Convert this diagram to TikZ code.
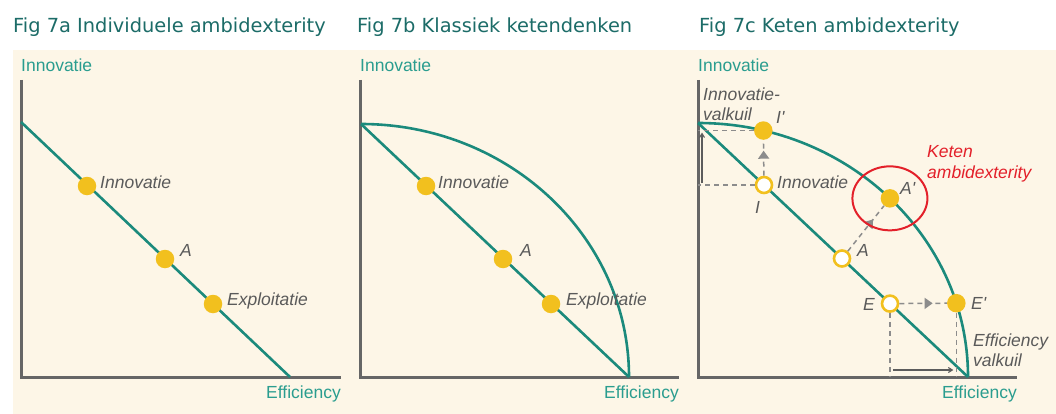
\documentclass[tikz,border=0pt]{standalone}
\usepackage{fontspec}
\setmainfont{Liberation Sans}
\newfontfamily\titlefont{DejaVu Sans}
\usetikzlibrary{arrows.meta, calc, decorations.markings}

\definecolor{cream}{HTML}{FDF6E7}
\definecolor{titleteal}{HTML}{1C6C68}
\definecolor{axisteal}{HTML}{2A9D8F}
\definecolor{curveteal}{HTML}{1B8A7C}
\definecolor{dotyellow}{HTML}{F2C01E}
\definecolor{txtgray}{HTML}{5A5A5A}
\definecolor{axisgray}{HTML}{666666}
\definecolor{guidegray}{HTML}{8C8C8C}
\definecolor{ketenred}{HTML}{E3202A}

\begin{document}
\begin{tikzpicture}[x=1pt, y=-1pt,
  every node/.style={inner sep=0pt, font=\fontsize{17.5}{20}\selectfont},
  axis/.style={draw=axisgray, line width=3pt, line join=miter},
  frontier/.style={draw=curveteal, line width=2.6pt},
  dot/.style={circle, fill=dotyellow, minimum size=18.5pt},
  opendot/.style={circle, draw=dotyellow, fill=white, line width=2.6pt, minimum size=16pt},
  lbl/.style={text=txtgray, font=\fontsize{17.5}{20}\selectfont\itshape},
  axlbl/.style={text=axisteal},
  figtitle/.style={text=titleteal, font=\titlefont\fontsize{19.4}{23}\selectfont, anchor=base west},
  guide/.style={color=guidegray, line width=1.5pt, dash pattern=on 5pt off 4pt},
  shiftarrow/.style={guide, postaction={decorate, decoration={markings,
      mark=at position 0.7 with {\arrow{Triangle[length=8pt, width=11pt]}}}}},
  gap/.style={draw=axisgray!90!black, line width=1.1pt, -{Straight Barb[length=4pt, width=5pt]}},
]
  \useasboundingbox (0,0) rectangle (1056,414);
  \fill[white] (0,0) rectangle (1056,414);
  \fill[cream] (13,50) rectangle (1056,414);

  % titles
  \node[figtitle] at (13,33) {Fig 7a Individuele ambidexterity};
  \node[figtitle] at (357,33) {Fig 7b Klassiek ketendenken};
  \node[figtitle] at (699,33) {Fig 7c Keten ambidexterity};

  % axes of the three panels
  \foreach \ox/\xe in {21/341, 360/679, 698/1017} {
    \draw[axis] (\ox,80) -- (\ox,377) -- (\xe,377);
    \node[axlbl, anchor=base west] at (\ox,72) {Innovatie};
    \node[axlbl, anchor=base east] at (\xe,398) {Efficiency};
  }
  \coordinate (oa) at (21,377);
  \coordinate (ob) at (360,377);
  \coordinate (oc) at (698,377);

  % 7a: one straight trade-off line
  \draw[frontier] (21,122) -- (290,377);
  \node[dot] (aI) at (87,186) {};
  \node[dot] (aA) at (165,259) {};
  \node[dot] (aE) at (213,304) {};
  \node[lbl, anchor=base west] at (100,189) {Innovatie};
  \node[lbl, anchor=base west] at (180,256) {A};
  \node[lbl, anchor=base west] at (227,305) {Exploitatie};

  % 7b: line plus outer frontier
  \draw[frontier] (361,124) -- (629,377);
  \draw[frontier] (361,124) arc[start angle=-90, end angle=0, x radius=268, y radius=253];
  \node[dot] (bI) at (426,186) {};
  \node[dot] (bA) at (503,259) {};
  \node[dot] (bE) at (551,304) {};
  \node[lbl, anchor=base west] at (438,188) {Innovatie};
  \node[lbl, anchor=base west] at (520,256) {A};
  \node[lbl, anchor=base west] at (566,305) {Exploitatie};

  % 7c: shifting the points out to the frontier
  \draw[frontier] (698,123) -- (968,377);
  \draw[frontier] (698,123) arc[start angle=-90, end angle=0, x radius=270, y radius=254];

  \node[opendot] (cI) at (764,185) {};
  \node[opendot] (cA) at (842,258.5) {};
  \node[opendot] (cE) at (890,303.6) {};
  \node[dot] (cIp) at ({698+270*cos(76)},{377-254*sin(76)}) {};
  \node[dot] (cAp) at ({698+270*cos(44.7)},{377-254*sin(44.7)}) {};
  \node[dot] (cEp) at ({698+270*cos(16.9)},{377-254*sin(16.9)}) {};

  \draw[guide] (cIp) -- (cIp -| oc);
  \draw[guide] (cI) -- (cI -| oc);
  \draw[guide] (cE) -- (cE |- oc);
  \draw[guide] (cEp) -- (cEp |- oc);
  \draw[shiftarrow] (cI) -- (cIp);
  \draw[shiftarrow] (cA) -- (cAp);
  \draw[shiftarrow] (cE) -- (cEp);

  \draw[gap] ($(cI -| oc)+(4,-2)$) -- ($(cIp -| oc)+(4,2)$);
  \draw[gap] ($(cE |- oc)+(3,-7)$) -- ($(cEp |- oc)+(-3,-7)$);

  \draw[ketenred, line width=2pt] (cAp) ellipse[x radius=37.5, y radius=32];

  \node[lbl, anchor=north west, align=left] at (703,88) {Innovatie-\\valkuil};
  \node[lbl, anchor=base west] at (776,124) {I\textquotesingle};
  \node[lbl, anchor=base west] at (755,213) {I};
  \node[lbl, anchor=base west] at (777,188) {Innovatie};
  \node[lbl, anchor=base west] at (900,194) {A\textquotesingle};
  \node[lbl, anchor=base west] at (857,256) {A};
  \node[lbl, anchor=base west] at (863,310) {E};
  \node[lbl, anchor=base west] at (971,309) {E\textquotesingle};
  \node[lbl, text=ketenred, anchor=north west, align=left,
    font=\fontsize{17.5}{21}\selectfont\itshape] at (927,145) {Keten\\ambidexterity};
  \node[lbl, anchor=north west, align=left] at (973,334) {Efficiency\\valkuil};
\end{tikzpicture}
\end{document}
